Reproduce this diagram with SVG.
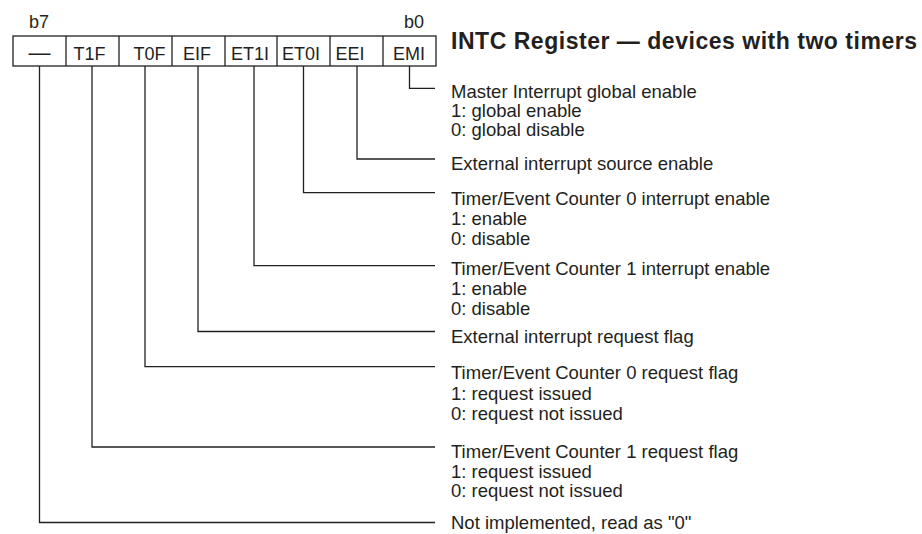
<svg xmlns="http://www.w3.org/2000/svg" width="922" height="534" viewBox="0 0 922 534">
<style>
.bg{fill:#ffffff}
.cell{fill:#ffffff;stroke:#231f20;stroke-width:1.3}
.div{stroke:#231f20;stroke-width:1.3}
.conn{fill:none;stroke:#231f20;stroke-width:1.3}
text{font-family:"Liberation Sans",Arial,Helvetica,sans-serif;fill:#231f20}
.bit{font-size:18px;text-anchor:middle}
.dash{font-size:22px;text-anchor:middle}
.lbl{font-size:18px}
.desc{font-size:18.5px}
.title{font-size:23px;font-weight:bold}
</style>
<rect class="bg" x="0" y="0" width="922" height="534"/>
<g id="register">
<rect class="cell" x="13" y="36" width="423" height="30"/>
<line class="div" x1="66" y1="36" x2="66" y2="66"/>
<line class="div" x1="119" y1="36" x2="119" y2="66"/>
<line class="div" x1="172" y1="36" x2="172" y2="66"/>
<line class="div" x1="225" y1="36" x2="225" y2="66"/>
<line class="div" x1="277" y1="36" x2="277" y2="66"/>
<line class="div" x1="330" y1="36" x2="330" y2="66"/>
<line class="div" x1="383" y1="36" x2="383" y2="66"/>
<text class="lbl" x="29" y="28">b7</text>
<text class="lbl" x="404" y="28">b0</text>
</g>
<g id="bit7"><text class="dash" x="39.5" y="60">—</text></g>
<g id="bit6"><text class="bit" x="89.5" y="60">T1F</text></g>
<g id="bit5"><text class="bit" x="149.5" y="60">T0F</text></g>
<g id="bit4"><text class="bit" x="197" y="60">EIF</text></g>
<g id="bit3"><text class="bit" x="250" y="60">ET1I</text></g>
<g id="bit2"><text class="bit" x="301" y="60">ET0I</text></g>
<g id="bit1"><text class="bit" x="350" y="60">EEI</text></g>
<g id="bit0"><text class="bit" x="409" y="60">EMI</text></g>
<g id="title"><text class="title" x="451" y="49.3" textLength="466" lengthAdjust="spacing">INTC Register — devices with two timers</text></g>
<g id="connectors">
<polyline class="conn" points="409.5,66 409.5,88.3 435,88.3"/>
<polyline class="conn" points="357,66 357,159 435,159"/>
<polyline class="conn" points="303.5,66 303.5,192.7 435,192.7"/>
<polyline class="conn" points="254,66 254,265.7 435,265.7"/>
<polyline class="conn" points="198,66 198,331.5 435,331.5"/>
<polyline class="conn" points="145,66 145,366.7 435,366.7"/>
<polyline class="conn" points="92,66 92,447 435,447"/>
<polyline class="conn" points="39.5,66 39.5,522.5 435,522.5"/>
</g>
<g id="desc-emi">
<text class="desc" x="451" y="97.7">Master Interrupt global enable</text>
<text class="desc" x="451" y="117">1: global enable</text>
<text class="desc" x="451" y="136.3">0: global disable</text>
</g>
<g id="desc-eei">
<text class="desc" x="451" y="170">External interrupt source enable</text>
</g>
<g id="desc-et0i">
<text class="desc" x="451" y="205">Timer/Event Counter 0 interrupt enable</text>
<text class="desc" x="451" y="225">1: enable</text>
<text class="desc" x="451" y="245">0: disable</text>
</g>
<g id="desc-et1i">
<text class="desc" x="451" y="275">Timer/Event Counter 1 interrupt enable</text>
<text class="desc" x="451" y="295">1: enable</text>
<text class="desc" x="451" y="315">0: disable</text>
</g>
<g id="desc-eif">
<text class="desc" x="451" y="343.3">External interrupt request flag</text>
</g>
<g id="desc-t0f">
<text class="desc" x="451" y="379">Timer/Event Counter 0 request flag</text>
<text class="desc" x="451" y="399.5">1: request issued</text>
<text class="desc" x="451" y="420">0: request not issued</text>
</g>
<g id="desc-t1f">
<text class="desc" x="451" y="458">Timer/Event Counter 1 request flag</text>
<text class="desc" x="451" y="477.5">1: request issued</text>
<text class="desc" x="451" y="497">0: request not issued</text>
</g>
<g id="desc-b7">
<text class="desc" x="451" y="529">Not implemented, read as "0"</text>
</g>
</svg>
